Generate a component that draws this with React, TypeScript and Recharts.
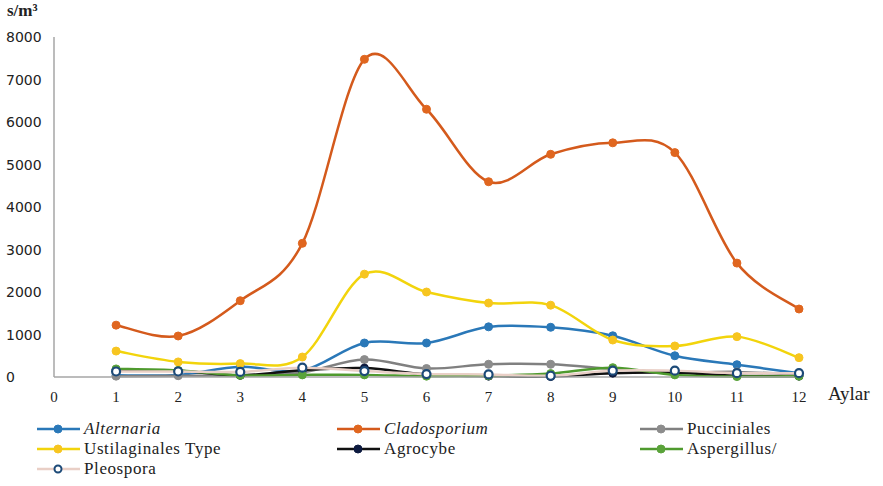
import React from 'react';
import { LineChart, Line, XAxis, YAxis } from 'recharts';

const months = [1, 2, 3, 4, 5, 6, 7, 8, 9, 10, 11, 12];
const alternaria = [40, 50, 240, 150, 800, 800, 1180, 1170, 970, 500, 290, 90];
const cladosporium = [1220, 965, 1795, 3145, 7475, 6300, 4595, 5240, 5510, 5280, 2680, 1600];
const pucciniales = [20, 30, 40, 110, 410, 200, 300, 300, 190, 100, 120, 50];
const ustilaginales = [610, 355, 315, 470, 2420, 2000, 1740, 1690, 870, 730, 950, 455];
const agrocybe = [170, 145, 40, 160, 210, 60, 20, 10, 90, 100, 30, 20];
const aspergillus = [190, 155, 40, 50, 50, 20, 30, 80, 220, 50, 10, 20];
const pleospora = [130, 130, 120, 220, 140, 70, 60, 30, 150, 150, 90, 90];

const xTicks = [0, 1, 2, 3, 4, 5, 6, 7, 8, 9, 10, 11, 12];
const yTicks = [0, 1000, 2000, 3000, 4000, 5000, 6000, 7000, 8000];

const series = [
  { key: 'alternaria', name: 'Alternaria', values: alternaria, color: '#2a78b8', dot: '#2a78b8', italic: true, hollow: false },
  { key: 'cladosporium', name: 'Cladosporium', values: cladosporium, color: '#d45a1c', dot: '#e0661f', italic: true, hollow: false },
  { key: 'pucciniales', name: 'Pucciniales', values: pucciniales, color: '#808080', dot: '#8c8c8c', italic: false, hollow: false },
  { key: 'ustilaginales', name: 'Ustilaginales Type', values: ustilaginales, color: '#f2d40c', dot: '#f7c520', italic: false, hollow: false },
  { key: 'agrocybe', name: 'Agrocybe', values: agrocybe, color: '#111111', dot: '#0d1a40', italic: false, hollow: false },
  { key: 'aspergillus', name: 'Aspergillus/', values: aspergillus, color: '#4f9a2e', dot: '#5aa33a', italic: false, hollow: false },
  { key: 'pleospora', name: 'Pleospora', values: pleospora, color: '#e9cfc6', dot: '#1c4a78', italic: false, hollow: true },
];

const data = months.map((m, i) => {
  const row: Record<string, number> = { month: m };
  series.forEach((s) => {
    row[s.key] = s.values[i];
  });
  return row;
});

// catmull-rom style smoothing, close to how Excel draws smoothed lines
function smoothCurve(context: any) {
  let pts: [number, number][] = [];
  return {
    areaStart() {},
    areaEnd() {},
    lineStart() {
      pts = [];
    },
    point(x: number, y: number) {
      pts.push([+x, +y]);
    },
    lineEnd() {
      if (!pts.length) return;
      context.moveTo(pts[0][0], pts[0][1]);
      for (let i = 0; i < pts.length - 1; i++) {
        const p0 = pts[Math.max(i - 1, 0)];
        const p1 = pts[i];
        const p2 = pts[i + 1];
        const p3 = pts[Math.min(i + 2, pts.length - 1)];
        context.bezierCurveTo(
          p1[0] + (p2[0] - p0[0]) / 6,
          p1[1] + (p2[1] - p0[1]) / 6,
          p2[0] - (p3[0] - p1[0]) / 6,
          p2[1] - (p3[1] - p1[1]) / 6,
          p2[0],
          p2[1]
        );
      }
    },
  };
}

const YTick = ({ y, payload }: any) => (
  <text x={6} y={y} dy={5} fontFamily="DejaVu Sans" fontSize={14} fill="#222">
    {payload.value}
  </text>
);

const LegendBox = () => (
  <div
    style={{
      display: 'grid',
      gridTemplateColumns: '300px 303px 240px',
      fontFamily: '"Liberation Serif", serif',
      fontSize: 17,
      color: '#222',
      letterSpacing: 0.6,
    }}
  >
    {series.map((s) => (
      <div key={s.key} style={{ display: 'flex', alignItems: 'center', height: 20 }}>
        <svg width={46} height={12} style={{ marginRight: 2 }}>
          <line x1={1} y1={6} x2={44} y2={6} stroke={s.color} strokeWidth={2.5} />
          <circle
            cx={22}
            cy={6}
            r={s.hollow ? 3.5 : 4}
            fill={s.hollow ? '#fff' : s.dot}
            stroke={s.dot}
            strokeWidth={s.hollow ? 2 : 1}
          />
        </svg>
        <span style={{ fontStyle: s.italic ? 'italic' : 'normal' }}>{s.name}</span>
      </div>
    ))}
  </div>
);

export default function App() {
  return (
    <div style={{ position: 'absolute', left: 0, top: 0, width: 883, height: 486, background: '#fff' }}>
      <LineChart width={883} height={486} data={data} margin={{ top: 37, right: 84, bottom: 79, left: 0 }}>
        <XAxis
          dataKey="month"
          type="number"
          domain={[0, 12]}
          ticks={xTicks}
          interval={0}
          tickLine={false}
          tickMargin={8}
          height={30}
          axisLine={{ stroke: '#a6a6a6', strokeWidth: 1.5 }}
          tick={{ fontFamily: '"Liberation Serif", serif', fontSize: 15, fill: '#222' }}
        />
        <YAxis
          domain={[0, 8000]}
          ticks={yTicks}
          interval={0}
          width={54}
          tickLine={false}
          axisLine={{ stroke: '#a6a6a6', strokeWidth: 1.5 }}
          tick={<YTick />}
        />
        {series.map((s) => (
          <Line
            key={s.key}
            dataKey={s.key}
            name={s.name}
            type={smoothCurve as any}
            stroke={s.color}
            strokeWidth={2.5}
            dot={{
              r: 4,
              fill: s.hollow ? '#fff' : s.dot,
              stroke: s.dot,
              strokeWidth: s.hollow ? 2.2 : 1,
            }}
            activeDot={false}
            isAnimationActive={false}
          />
        ))}
      </LineChart>
      <div style={{ position: 'absolute', left: 36, top: 419 }}>
        <LegendBox />
      </div>
      <div
        style={{
          position: 'absolute',
          left: 7,
          top: 1,
          fontFamily: '"Liberation Serif", serif',
          fontWeight: 'bold',
          fontSize: 17,
          color: '#222',
        }}
      >
        s/m³
      </div>
      <div
        style={{
          position: 'absolute',
          left: 828,
          top: 383,
          fontFamily: '"Liberation Serif", serif',
          fontSize: 19,
          color: '#222',
        }}
      >
        Aylar
      </div>
    </div>
  );
}
